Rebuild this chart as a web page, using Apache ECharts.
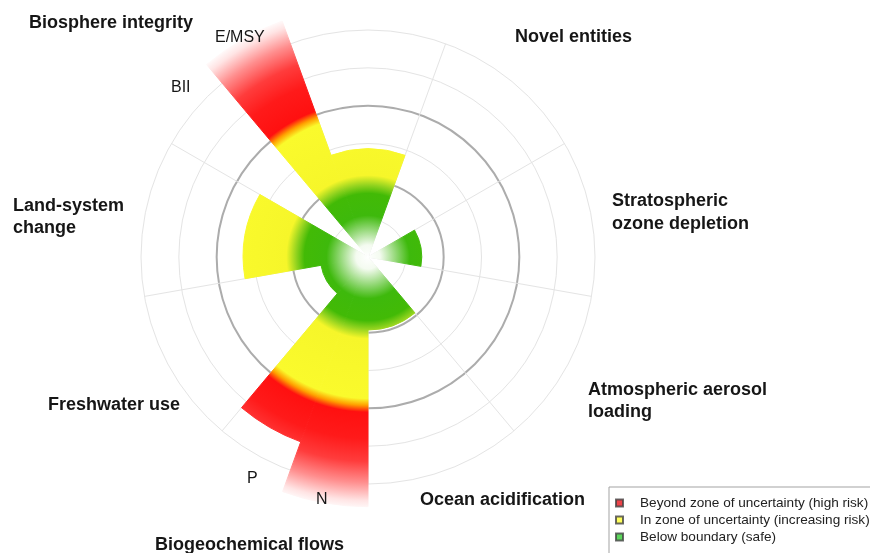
<!DOCTYPE html>
<html>
<head>
<meta charset="utf-8">
<script src="https://cdn.jsdelivr.net/npm/echarts/dist/echarts.min.js"></script>
<style>
html,body{margin:0;padding:0;background:#ffffff;}
#chart{width:870px;height:553px;}
</style>
</head>
<body>
<div id="chart"></div>
<script>
// ---------------- DATA ----------------
// Nine boundaries, clockwise from the top sector (values normalised: 1 = planetary boundary, 2 = upper end of zone of uncertainty)
const sectorNames = ['Climate change', 'Novel entities', 'Stratospheric ozone depletion',
  'Atmospheric aerosol loading', 'Ocean acidification', 'Biogeochemical flows',
  'Freshwater use', 'Land-system change', 'Biosphere integrity'];
const sectorValues = [1.43, null, 0.71, null, 0.965, null, 0.63, 1.65, null];

// Half-sector sub-indicators (two per sector), same clockwise order
const subNames = ['CC-1', 'CC-2', 'NE-1', 'NE-2', 'OZ-1', 'OZ-2', 'AA-1', 'AA-2', 'OA-1', 'OA-2',
  'N', 'P', 'FW-1', 'FW-2', 'LS-1', 'LS-2', 'BII', 'E/MSY'];
const subValues = [null, null, null, null, null, null, null, null, null, null,
  3.3, 2.6, null, null, null, null, null, 3.32];

// Radius scale ticks
const radiusMin = 0;
const radiusMax = 3;
const ringStep = 0.5;
const boundaryStep = 1;

// Legend entries
const legendNames = ['Beyond zone of uncertainty (high risk)', 'In zone of uncertainty (increasing risk)', 'Below boundary (safe)'];
const legendColors = ['#e8141c', '#ffff33', '#33cc33'];

// ---------------- STYLE / LAYOUT ----------------
const CX = 368, CY = 257, POLAR_R = 227;
const GRAD_MAX = 3.35; // value at which the colour fades to white
const gradStops = [
  [0.00, '#ffffff'], [0.16, '#f4fbf0'], [0.55, '#3eb90c'], [0.84, '#42ba06'],
  [0.95, '#92d31f'], [1.08, '#f6f62a'], [1.87, '#fafa2c'], [1.96, '#ffa000'],
  [2.05, '#ff1010'], [2.4, '#ff1a1a'], [2.7, '#ff3c3c'], [2.98, '#ff8e8e'], [3.22, '#ffe4e4'], [3.35, '#ffffff']
];
const barGradient = {
  type: 'radial', global: true, x: CX, y: CY, r: POLAR_R * GRAD_MAX / radiusMax,
  colorStops: gradStops.map(s => ({ offset: Math.min(1, s[0] / GRAD_MAX), color: s[1] }))
};
const T = 'rgba(0,0,0,0)';
const LIGHT = '#e4e4e4';
const DARK = '#acacac';

// light rings at each 0.5, except the boundary rings (drawn darker by the 2nd polar)
const lightRingColors = [];
for (let v = radiusMin; v <= radiusMax + 1e-9; v += ringStep) {
  lightRingColors.push((v === 0 || Math.abs(v - 1) < 1e-9 || Math.abs(v - 2) < 1e-9) ? T : LIGHT);
}
const darkRingColors = [];
for (let v = radiusMin; v <= radiusMax + 1e-9; v += boundaryStep) {
  darkRingColors.push((Math.abs(v - 1) < 1e-9 || Math.abs(v - 2) < 1e-9) ? DARK : T);
}

const BOLD = 'bold 18px "Liberation Sans", Arial, sans-serif';
const REG = '16px "Liberation Sans", Arial, sans-serif';
function label(text, x, y, font, lh) {
  return {
    type: 'text', x: x, y: y, z: 100, silent: true,
    style: { text: text, font: font, fill: '#161616', verticalAlign: lh ? 'top' : 'middle', lineHeight: lh || undefined }
  };
}

const chart = echarts.init(document.getElementById('chart'), null, { renderer: 'canvas' });
const hiddenAxis = { axisLine: { show: false }, axisTick: { show: false }, axisLabel: { show: false } };
const barStyle = { color: barGradient, borderColor: barGradient, borderWidth: 1 };

chart.setOption({
  animation: false,
  backgroundColor: '#ffffff',
  polar: [
    { center: [CX, CY], radius: POLAR_R },
    { center: [CX, CY], radius: POLAR_R }
  ],
  angleAxis: [
    Object.assign({
      polarIndex: 0, type: 'category', data: sectorNames, startAngle: 110, clockwise: true, boundaryGap: true,
      splitLine: { show: true, interval: 0, lineStyle: { color: LIGHT, width: 1 } }
    }, hiddenAxis),
    Object.assign({
      polarIndex: 1, type: 'category', data: subNames, startAngle: 110, clockwise: true, boundaryGap: true,
      splitLine: { show: false }
    }, hiddenAxis)
  ],
  radiusAxis: [
    Object.assign({
      polarIndex: 0, type: 'value', min: radiusMin, max: radiusMax, interval: ringStep,
      splitLine: { show: true, lineStyle: { color: lightRingColors, width: 1 } }
    }, hiddenAxis),
    Object.assign({
      polarIndex: 1, type: 'value', min: radiusMin, max: radiusMax, interval: boundaryStep,
      splitLine: { show: true, lineStyle: { color: darkRingColors, width: 2 } }
    }, hiddenAxis)
  ],
  legend: {
    data: legendNames, orient: 'vertical', left: 609, top: 487, height: 100,
    icon: 'rect', itemWidth: 7, itemHeight: 7, itemGap: 3, selectedMode: false,
    padding: [9, 12, 20, 6], borderColor: '#a3a3a3', borderWidth: 1, backgroundColor: '#ffffff',
    textStyle: { fontFamily: '"Liberation Sans", Arial, sans-serif', fontSize: 13.6, color: '#222222', lineHeight: 14, padding: [0, 0, 0, 12] }
  },
  series: [
    {
      type: 'bar', coordinateSystem: 'polar', polarIndex: 0, data: sectorValues,
      barCategoryGap: '0%', clip: false, silent: true, itemStyle: barStyle
    },
    {
      type: 'bar', coordinateSystem: 'polar', polarIndex: 1, data: subValues,
      barCategoryGap: '0%', clip: false, silent: true, itemStyle: barStyle
    }
  ].concat(legendNames.map((n, i) => ({
    type: 'scatter', coordinateSystem: 'polar', polarIndex: 1, name: n, data: [],
    itemStyle: { color: legendColors[i], borderColor: '#444444', borderWidth: 1 }
  }))),
  graphic: [
    label('Biosphere integrity', 29, 23, BOLD),
    label('E/MSY', 215, 38, REG),
    label('BII', 171, 88, REG),
    label('Novel entities', 515, 37, BOLD),
    label('Stratospheric\nozone depletion', 612, 190, BOLD, 23),
    label('Land-system\nchange', 13, 195, BOLD, 22),
    label('Atmospheric aerosol\nloading', 588, 379, BOLD, 22),
    label('Freshwater use', 48, 405, BOLD),
    label('Ocean acidification', 420, 500, BOLD),
    label('P', 247, 479, REG),
    label('N', 316, 500, REG),
    label('Biogeochemical flows', 155, 545, BOLD)
  ]
});
</script>
</body>
</html>
